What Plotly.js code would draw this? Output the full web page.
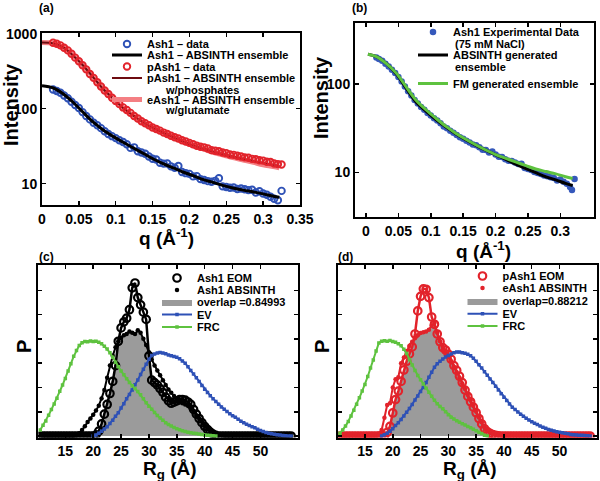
<!DOCTYPE html>
<html><head><meta charset="utf-8">
<script src="https://cdn.plot.ly/plotly-3.0.1.min.js"></script>
<style>html,body{margin:0;padding:0;background:#fff}#chart{width:600px;height:481px}</style>
</head><body><div id="chart"></div>
<script>
// ---------- Panel (a) ----------
const qA = [0.015,0.02,0.025,0.03,0.035,0.04,0.045,0.05,0.055,0.06,0.065,0.07,0.075,0.08,0.085,0.09,0.095,0.1,0.105,0.11,0.115,0.12,0.125,0.13,0.135,0.14,0.145,0.15,0.155,0.16,0.165,0.17,0.175,0.18,0.185,0.19,0.195,0.2,0.205,0.21,0.215,0.22,0.225,0.23,0.235,0.24,0.245,0.25,0.255,0.26,0.265,0.27,0.275,0.28,0.285,0.29,0.295,0.3,0.305,0.31,0.315,0.32,0.325];
const ash1Data = [180,172,163,150,138,124,112,102,90,80,72,65,60,55,50,46,43,40.5,38,36,33.5,30,30.5,27,26,25,23,21.5,21,19,18.5,18.6,17,16.3,17.2,14.3,13.8,13.5,12.5,12.6,11.5,11.2,10.8,10.6,10.9,11.8,9.2,9.0,8.8,8.9,8.5,8.6,8.4,8.2,8.3,7.6,7.9,7.4,7.1,6.7,6.3,6.0,8.0];
const pAsh1Data = [760,735,700,650,600,540,480,430,380,335,290,258,225,198,175,157,140,127,115,104,96,88,80,74,68,64,60,56,53.5,51,48,46,43.5,41.5,40,38,36.5,35,33.5,32,31,30.5,29.5,28,27.5,27,26,25.5,24.5,24.2,23.6,23,22.4,22.2,21.4,21.2,20.5,20.3,19.6,19.4,18.6,18.2,18.0];
const qAModel = [0,0.0154,0.029,0.0425,0.056,0.0696,0.083,0.097,0.110,0.124,0.137,0.151,0.165,0.178,0.192,0.205,0.219,0.232,0.246,0.259,0.273,0.287,0.300,0.314,0.322];
const ash1Model = [203,189,157,121,89,66,52,42.4,35.6,29.9,25.4,21.3,18.3,16.2,14.2,12.8,11.3,10.4,9.4,8.75,8.2,7.75,7.3,6.8,6.6];
const pAsh1Model = [766,743,658,509,374,262,183,135,102,80.7,65.8,55.2,47.4,41.5,36.3,32.1,29.2,26.6,24.6,22.9,21.4,20.0,18.8,17.8,17.2];
const eAsh1Model = [766,743,658,509,374,262,183,135,102,80.7,65.8,55.2,47.4,41.5,36.3,32.1,29,26.2,24.1,22.2,20.7,19.2,17.9,16.9,16.2];
const qTickA = [0,0.05,0.1,0.15,0.2,0.25,0.3,0.35];
const qTickTextA = ['0','0.05','0.1','0.15','0.2','0.25','0.3','0.35'];

// ---------- Panel (b) ----------
const qB = [0.016,0.02,0.025,0.03,0.035,0.04,0.045,0.05,0.055,0.06,0.065,0.07,0.075,0.08,0.085,0.09,0.095,0.1,0.105,0.11,0.115,0.12,0.125,0.13,0.135,0.14,0.145,0.15,0.155,0.16,0.165,0.17,0.175,0.18,0.185,0.19,0.195,0.2,0.205,0.21,0.215,0.22,0.225,0.23,0.235,0.24,0.245,0.25,0.255,0.26,0.265,0.27,0.275,0.28,0.285,0.29,0.295,0.3,0.305,0.31,0.315,0.318,0.322];
const ash1DataB = [200,192,183,170,158,145,133,120,107,94,83,74,66,60,55,51,47,44,41,38.5,36,33,31.5,29.5,28,26.5,25,24,22.8,21.8,20.6,20.3,19.2,18.0,17.9,16.8,17.2,15.9,15.0,14.9,14.1,13.5,13.4,12.9,12.4,12.5,11.2,10.9,10.6,10.1,9.8,9.6,9.2,9.0,8.8,8.6,8.1,8.3,7.8,7.4,6.8,6.3,8.4];
const qBModel = [0.003,0.016,0.031,0.047,0.062,0.077,0.093,0.108,0.124,0.139,0.154,0.170,0.185,0.201,0.216,0.231,0.247,0.262,0.278,0.293,0.308,0.319];
const absinthB = [217,204,171,130,90,63,49,39.5,32.3,27.2,23.4,20.2,17.8,15.7,14.0,12.4,11.0,9.9,8.9,8.2,7.5,7.1];
const fmB = [217,204,171,132,93,66,50.8,40.9,32.9,27.6,23.7,20.4,17.9,15.8,14.4,13.1,11.9,10.9,10.2,9.6,8.9,8.5];
const qTickB = [0,0.05,0.1,0.15,0.2,0.25,0.3];
const qTickTextB = ['0','0.05','0.1','0.15','0.2','0.25','0.3'];

// ---------- Panels (c) and (d) ----------
const rg = [10.5,11,11.5,12,12.5,13,13.5,14,14.5,15,15.5,16,16.5,17,17.5,18,18.5,19,19.5,20,20.5,21,21.5,22,22.5,23,23.5,24,24.5,25,25.5,26,26.5,27,27.5,28,28.5,29,29.5,30,30.5,31,31.5,32,32.5,33,33.5,34,34.5,35,35.5,36,36.5,37,37.5,38,38.5,39,39.5,40,40.5,41,41.5,42,42.5,43,43.5,44,44.5,45,45.5,46,46.5,47,47.5,48,48.5,49,49.5,50,50.5,51,51.5,52,52.5,53,53.5,54,54.5,55,55.5];
const eomC = [0,0,0,0,0,0,0,0,0,0,0,0,0,0,0,0,0,0,0,
 0,0.0005,0.002,0.005,0.009,0.013,0.0175,0.0225,0.029,0.039,
 0.0445,0.047,0.0485,0.052,0.061,0.063,0.057,0.054,0.051,0.048,
 0.033,0.023,0.022,0.021,0.0195,0.018,0.016,0.0145,0.0135,0.014,
 0.0145,0.015,0.015,0.0148,0.014,0.013,0.011,0.009,0.0072,0.0055,
 0.004,0.0027,0.0016,0.0008,0.0003,
 0,0,0,0,0,0,0,0,0,0,0,0,0,0,0,0,0,0,0,0,0,0,0,0,0,0,0];
const absinthC = [0,0,0,0,0,0,0,0,0,0,0,0,0,
 0.0003,0.0012,0.0025,0.004,0.0058,0.0072,
 0.0088,0.0105,0.0125,0.0155,0.019,0.024,0.029,0.033,0.0365,0.039,
 0.0405,0.0415,0.042,0.043,0.0425,0.042,0.0435,0.0425,0.04,0.0375,
 0.0345,0.0315,0.029,0.027,0.025,0.023,0.021,0.0192,0.0178,0.0165,
 0.015,0.014,0.0135,0.013,0.0125,0.0112,0.0098,0.0085,0.0072,0.006,
 0.0048,0.0037,0.0027,0.0018,0.0011,0.0006,0.0003,0.0001,
 0,0,0,0,0,0,0,0,0,0,0,0,0,0,0,0,0,0,0,0,0,0,0,0];
const evC = [null,null,null,null,null,null,null,null,null,null,null,null,null,null,null,null,null,null,null,
 0,0.0004,0.0011,0.002,0.0029,0.0038,0.0052,0.0065,0.0081,0.0096,
 0.0115,0.0133,0.0153,0.0171,0.019,0.0211,0.0231,0.0253,0.0275,0.0296,
 0.0316,0.0331,0.0338,0.0342,0.0344,0.0342,0.0339,0.0334,0.033,0.0327,
 0.0324,0.0318,0.0309,0.03,0.0285,0.027,0.0255,0.024,0.0224,0.0208,
 0.0193,0.0179,0.0166,0.0154,0.0142,0.0131,0.012,0.011,0.0101,0.0092,
 0.0084,0.0077,0.0069,0.0061,0.0055,0.0049,0.0043,0.0038,0.0034,0.0028,
 0.0023,0.0019,0.0015,0.0012,0.0009,0.0007,0.0005,0.0004,0.0002,0.0001,
 0,0];
const frcC = [0.0025,0.0044,0.0062,0.0086,0.0109,0.0132,0.0156,0.0184,0.021,0.0237,
 0.0268,0.0298,0.0328,0.0352,0.0373,0.0384,0.0389,0.0388,0.0391,0.0389,
 0.039,0.0386,0.038,0.037,0.0358,0.0343,0.0324,0.0304,0.0285,0.0268,
 0.0252,0.0236,0.022,0.0207,0.0196,0.0183,0.017,0.0153,0.0137,0.0123,
 0.011,0.0097,0.0085,0.0074,0.0065,0.0055,0.0047,0.0041,0.0035,0.003,
 0.0026,0.0022,0.0019,0.0016,0.0014,0.0012,0.001,0.0008,0.0006,0.0004,
 0.0003,0.0002,0.0001,0,
 null,null,null,null,null,null,null,null,null,null,null,null,null,null,null,null,null,null,null,null,null,null,null,null,null,null,null];
const eomD = [0,0,0,0,0,0,0,0,0,0,0,0,0,0,0,0,0,
 0.0015,0.004,
 0.0095,0.015,0.0185,0.0225,0.0272,0.0308,0.0338,0.0367,0.042,0.0515,
 0.0575,0.0606,0.0604,0.057,0.049,0.046,0.042,0.0388,0.0364,0.0354,
 0.0337,0.0316,0.029,0.027,0.0246,0.022,0.0189,0.0163,0.0141,0.0119,
 0.0096,0.0072,0.005,0.003,0.0018,0.0011,0.0006,0.0003,0.0001,
 0,0,0,0,0,0,0,0,0,0,0,0,0,0,0,0,0,0,0,0,0,0,0,0,0,0,0,0,0,0,0,0,0];
const absinthD = [0,0,0,0,0,0,0,0,0,0,0,0,0,
 0.0001,0.001,0.0025,0.0075,0.0128,0.0135,
 0.02,0.0234,0.0242,0.03,0.0323,0.035,0.0371,0.0388,0.0402,0.0415,
 0.0424,0.0427,0.043,0.0438,0.0455,0.0465,0.0425,0.039,0.0366,0.0346,
 0.033,0.0307,0.0285,0.0263,0.024,0.0216,0.0194,0.017,0.0147,0.0124,
 0.0101,0.0076,0.0057,0.004,0.0026,0.0016,0.001,0.0006,0.0003,0.0001,
 0,0,0,0,0,0,0,0,0,0,0,0,0,0,0,0,0,0,0,0,0,0,0,0,0,0,0,0,0,0,0,0];
const evD = [null,null,null,null,null,null,null,null,null,null,null,null,null,null,null,
 0,0.0005,0.0012,0.002,
 0.003,0.0043,0.0055,0.0068,0.0083,0.0098,0.0113,0.013,0.0148,0.0165,
 0.0183,0.02,0.022,0.0242,0.0263,0.0283,0.0298,0.0308,0.0317,0.0325,
 0.0332,0.0338,0.0343,0.0346,0.0346,0.0343,0.0341,0.0337,0.033,0.032,
 0.0308,0.0293,0.028,0.0265,0.025,0.0235,0.022,0.0205,0.019,0.0174,
 0.016,0.0146,0.0132,0.0119,0.0109,0.0099,0.009,0.0081,0.0073,0.0066,
 0.0059,0.0053,0.0047,0.0041,0.0036,0.0032,0.0027,0.0024,0.0021,0.0018,
 0.0016,0.0014,0.0011,0.0009,0.0006,0.0005,0.0004,0.0003,0.0003,0.0002,
 0.0001,0];
const frcD = [0.0012,0.0025,0.0041,0.006,0.0083,0.0106,0.0131,0.0158,0.0185,0.0212,
 0.0245,0.028,0.0313,0.035,0.0383,0.039,0.0392,0.039,0.0393,0.0389,
 0.0386,0.038,0.0372,0.0357,0.034,0.0315,0.0292,0.027,0.0249,0.0232,
 0.0214,0.0197,0.018,0.0164,0.0147,0.0133,0.0122,0.0112,0.01,0.0088,
 0.0077,0.007,0.0063,0.0057,0.0051,0.0045,0.0039,0.0034,0.0028,0.0022,
 0.0016,0.001,0.0003,0,
 null,null,null,null,null,null,null,null,null,null,null,null,null,null,null,null,null,null,null,null,null,null,null,null,null,null,null,null,null,null,null,null,null,null,null,null,null];
const rgTicks = [15,20,25,30,35,40,45,50];
const overlapLabelC = 'overlap =0.84993';
const overlapLabelD = 'overlap=0.88212';

// ---------- helpers ----------
const W = 600, H = 481;
const px = x => x / W;
const py = y => 1 - y / H;
const FONT = 'Liberation Sans, Arial, Helvetica, sans-serif';
const BLUE = '#2e51b6', RED = '#e2232b', PINK = '#f47f83', DARKRED = '#6e0b10', GREEN = '#5ec23f', GRAY = '#9b9b9b';

const legends = {};
let nLeg = 0;
function leg(textX, yc) {
  nLeg++;
  const name = nLeg === 1 ? 'legend' : 'legend' + nLeg;
  legends[name] = {x: px(textX - 40), y: py(yc), xanchor: 'left', yanchor: 'middle',
    bgcolor: 'rgba(0,0,0,0)', borderwidth: 0, itemwidth: 30, tracegroupgap: 0,
    font: {family: FONT, size: 11, color: '#000', weight: 'bold'}};
  return name;
}
const overlapC = eomC.map((v, i) => Math.min(v, absinthC[i]));
const overlapD = eomD.map((v, i) => Math.min(v, absinthD[i]));

const traces = [];
// Panel a
traces.push({x: qAModel, y: eAsh1Model, mode: 'lines', line: {color: PINK, width: 5, shape: 'spline'}, name: 'eAsh1 – ABSINTH ensemble', legend: leg(147, 99.5), xaxis: 'x', yaxis: 'y'});
traces.push({x: qAModel, y: pAsh1Model, mode: 'lines', line: {color: DARKRED, width: 2, shape: 'spline'}, name: 'pAsh1 – ABSINTH ensemble', legend: leg(147, 78), xaxis: 'x', yaxis: 'y'});
traces.push({x: qA, y: pAsh1Data, mode: 'markers', marker: {symbol: 'circle-open', color: RED, size: 6.5, line: {width: 1.9, color: RED}}, name: 'pAsh1 – data', legend: leg(147, 66.5), xaxis: 'x', yaxis: 'y'});
traces.push({x: qA, y: ash1Data, mode: 'markers', marker: {symbol: 'circle-open', color: BLUE, size: 6.5, line: {width: 1.9, color: BLUE}}, name: 'Ash1 – data', legend: leg(147, 44), xaxis: 'x', yaxis: 'y'});
traces.push({x: qAModel, y: ash1Model, mode: 'lines', line: {color: '#000', width: 3, shape: 'spline'}, name: 'Ash1 – ABSINTH ensemble', legend: leg(147, 55), xaxis: 'x', yaxis: 'y'});
// Panel b
traces.push({x: qB, y: ash1DataB, mode: 'markers', marker: {symbol: 'circle', color: '#3558bb', size: 6.5}, name: 'Ash1 Experimental Data', legend: leg(453, 32), xaxis: 'x2', yaxis: 'y2'});
traces.push({x: qBModel, y: absinthB, mode: 'lines', line: {color: '#000', width: 3, shape: 'spline'}, name: 'ABSINTH generated', legend: leg(453, 55), xaxis: 'x2', yaxis: 'y2'});
traces.push({x: qBModel, y: fmB, mode: 'lines', line: {color: GREEN, width: 3, shape: 'spline'}, name: 'FM generated ensemble', legend: leg(453, 83.5), xaxis: 'x2', yaxis: 'y2'});

// Panels c, d
function histPanel(xa, ya, eom, abs, ov, ev, frc, col, names, tx, ys) {
  traces.push({x: rg, y: ov, mode: 'lines', fill: 'tozeroy', fillcolor: GRAY, line: {width: 0, color: GRAY}, name: names[2], legend: leg(tx, ys[2]), xaxis: xa, yaxis: ya});
  traces.push({x: rg, y: abs, mode: 'lines', line: {color: col, width: 2}, showlegend: false, xaxis: xa, yaxis: ya});
  traces.push({x: rg, y: abs, mode: 'markers', marker: {symbol: 'circle', color: col, size: 4.5}, name: names[1], legend: leg(tx, ys[1]), xaxis: xa, yaxis: ya});
  traces.push({x: rg, y: eom, mode: 'lines', line: {color: col, width: 2.5}, showlegend: false, xaxis: xa, yaxis: ya});
  traces.push({x: rg, y: eom, mode: 'markers', marker: {symbol: 'circle-open', color: col, size: 7.5, line: {width: 2.2, color: col}}, name: names[0], legend: leg(tx, ys[0]), xaxis: xa, yaxis: ya});
  traces.push({x: rg, y: ev, mode: 'lines+markers', line: {color: BLUE, width: 2}, marker: {symbol: 'square', size: 3.5, color: BLUE}, name: 'EV', legend: leg(tx, ys[3]), xaxis: xa, yaxis: ya});
  traces.push({x: rg, y: frc, mode: 'lines+markers', line: {color: GREEN, width: 2}, marker: {symbol: 'square', size: 3.5, color: GREEN}, name: 'FRC', legend: leg(tx, ys[4]), xaxis: xa, yaxis: ya});
}
histPanel('x3', 'y3', eomC, absinthC, overlapC, evC, frcC, '#000', ['Ash1 EOM', 'Ash1 ABSINTH', overlapLabelC], 197, [278, 290, 302, 314.5, 327]);
histPanel('x4', 'y4', eomD, absinthD, overlapD, evD, frcD, RED, ['pAsh1 EOM', 'eAsh1 ABSINTH', overlapLabelD], 502.5, [276, 288, 301, 313.7, 326]);

const ax = {showline: true, linecolor: '#000', linewidth: 2, mirror: 'ticks', ticks: 'inside', ticklen: 4, tickwidth: 1.5, tickcolor: '#000', showgrid: false, zeroline: false,
  tickfont: {family: FONT, size: 14, color: '#000', weight: 'bold'}};

const ann = [];
function txt(text, x, y, size, extra) {
  ann.push(Object.assign({text: text, x: px(x), y: py(y), xref: 'paper', yref: 'paper', showarrow: false, xanchor: 'center', yanchor: 'middle',
    font: {family: FONT, size: size, color: '#000', weight: 'bold'}}, extra || {}));
}
txt('(a)', 46, 8, 12);
txt('(b)', 359, 8, 12);
txt('(c)', 46, 257, 12);
txt('(d)', 345, 257, 12);
txt('Intensity', 11, 105, 20, {textangle: -90});
txt('Intensity', 321, 98, 20, {textangle: -90});
txt('q (Å<sup>-1</sup>)', 166, 237, 19);
txt('q (Å<sup>-1</sup>)', 483, 250, 19);
txt('P', 24, 347, 20, {textangle: -90});
txt('P', 322, 347, 20, {textangle: -90});
txt('R<sub>g</sub> (Å)', 170, 470, 19);
txt('R<sub>g</sub> (Å)', 470, 470, 19);
txt('w/phosphates', 163, 89.5, 11, {xanchor: 'left'});
txt('w/glutamate', 163, 110, 11, {xanchor: 'left'});
txt('(75 mM NaCl)', 453, 43.5, 11, {xanchor: 'left'});
txt('ensemble', 453, 67, 11, {xanchor: 'left'});

const layout = Object.assign({
  width: W, height: H, margin: {l: 0, r: 0, t: 0, b: 0},
  paper_bgcolor: '#fff', plot_bgcolor: '#fff', showlegend: true,
  xaxis: Object.assign({}, ax, {domain: [px(42), px(300)], range: [0, 0.35], tickvals: qTickA, ticktext: qTickTextA, anchor: 'y'}),
  yaxis: Object.assign({}, ax, {domain: [py(205), py(33)], type: 'log', range: [0.715, 3.01], tickvals: [10, 100, 1000], ticktext: ['10', '100', '1000'], anchor: 'x'}),
  xaxis2: Object.assign({}, ax, {domain: [px(355), px(594)], range: [-0.017, 0.352], tickvals: qTickB, ticktext: qTickTextB, anchor: 'y2'}),
  yaxis2: Object.assign({}, ax, {domain: [py(217), py(23)], type: 'log', range: [0.494, 2.691], tickvals: [10, 100], ticktext: ['10', '100'], anchor: 'x2'}),
  xaxis3: Object.assign({}, ax, {domain: [px(38.3), px(297.5)], range: [10.15, 56.65], tickvals: rgTicks, anchor: 'y3'}),
  yaxis3: Object.assign({}, ax, {domain: [py(437.5), py(265)], range: [-0.0006, 0.0704], dtick: 0.01, tick0: 0, showticklabels: false, anchor: 'x3'}),
  xaxis4: Object.assign({}, ax, {domain: [px(338), px(596.5)], range: [10.15, 56.65], tickvals: rgTicks, anchor: 'y4'}),
  yaxis4: Object.assign({}, ax, {domain: [py(437.5), py(265)], range: [-0.0006, 0.0704], dtick: 0.01, tick0: 0, showticklabels: false, anchor: 'x4'}),
  annotations: ann
}, legends);

Plotly.newPlot('chart', traces, layout, {displayModeBar: false, staticPlot: true});
</script></body></html>
